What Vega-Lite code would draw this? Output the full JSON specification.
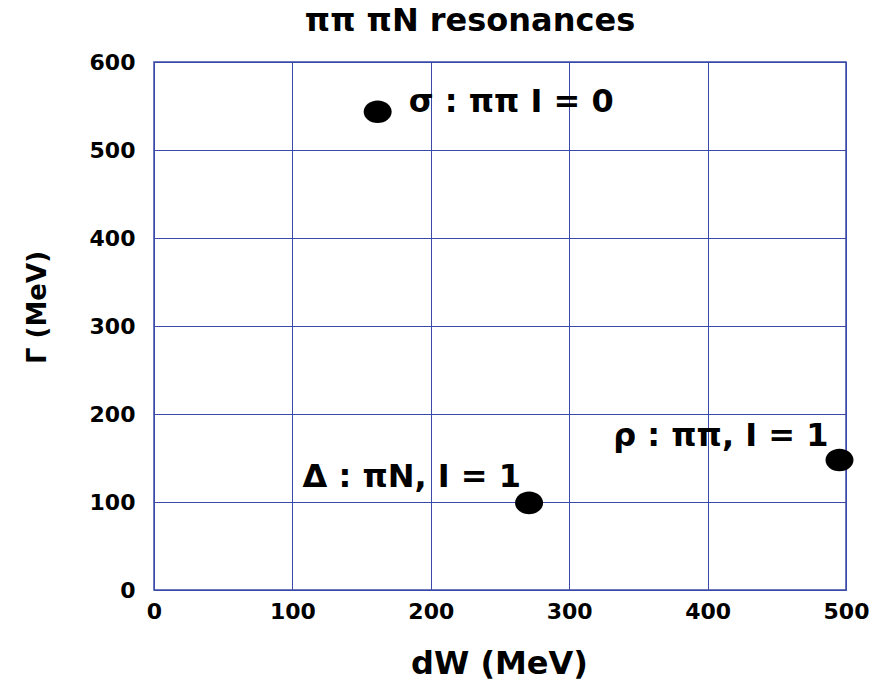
{
  "$schema": "https://vega.github.io/schema/vega-lite/v6.json",
  "width": 692,
  "height": 528,
  "autosize": {"type": "none"},
  "padding": {"left": 154, "top": 62, "right": 29, "bottom": 93},
  "background": "white",
  "title": {
    "text": "ππ πN resonances",
    "font": "DejaVu Sans",
    "fontSize": 32,
    "fontWeight": "bold",
    "color": "black",
    "anchor": "middle",
    "offset": 13,
    "dx": -30
  },
  "config": {
    "view": {"stroke": "#3b4aa8", "strokeWidth": 1.5},
    "axis": {
      "gridColor": "#3b4aa8",
      "gridOpacity": 1,
      "gridWidth": 1,
      "domain": false,
      "ticks": false,
      "labelFont": "DejaVu Sans",
      "labelFontSize": 22,
      "labelFontWeight": "bold",
      "labelColor": "black",
      "titleFont": "DejaVu Sans",
      "titleFontWeight": "bold",
      "titleColor": "black"
    }
  },
  "data": {
    "values": [
      {"dW": 161.6, "Gamma": 543.5, "label": "σ : ππ I = 0", "name": "sigma"},
      {"dW": 271, "Gamma": 99, "label": "Δ : πN, I = 1", "name": "delta"},
      {"dW": 495.3, "Gamma": 147.7, "label": "ρ : ππ, I = 1", "name": "rho"}
    ]
  },
  "encoding": {
    "x": {
      "field": "dW", "type": "quantitative",
      "scale": {"domain": [0, 500], "nice": false},
      "axis": {"values": [0, 100, 200, 300, 400, 500], "title": "dW (MeV)", "titleFontSize": 32, "labelPadding": 11, "titleX": 345, "titleY": 73, "titleBaseline": "middle", "labelFlush": false}
    },
    "y": {
      "field": "Gamma", "type": "quantitative",
      "scale": {"domain": [0, 600], "nice": false},
      "axis": {"values": [0, 100, 200, 300, 400, 500, 600], "title": "Γ (MeV)", "titleFontSize": 26, "labelPadding": 19, "titleX": -117, "titleY": 245, "titleAngle": -90, "titleBaseline": "middle", "labelFlush": false}
    }
  },
  "layer": [
    {
      "mark": {
        "type": "point",
        "filled": true,
        "color": "black",
        "opacity": 1,
        "size": 784,
        "shape": "M -1,0 A 1,0.81 0 1 1 1,0 A 1,0.81 0 1 1 -1,0 Z"
      }
    },
    {
      "transform": [{"filter": "datum.name == 'sigma'"}],
      "mark": {"type": "text", "align": "left", "baseline": "alphabetic", "dx": 31, "dy": 0, "font": "DejaVu Sans", "fontSize": 32, "fontWeight": "bold", "color": "black"},
      "encoding": {"text": {"field": "label"}}
    },
    {
      "transform": [{"filter": "datum.name == 'delta'"}],
      "mark": {"type": "text", "align": "right", "baseline": "alphabetic", "dx": -8, "dy": -16, "font": "DejaVu Sans", "fontSize": 32, "fontWeight": "bold", "color": "black"},
      "encoding": {"text": {"field": "label"}}
    },
    {
      "transform": [{"filter": "datum.name == 'rho'"}],
      "mark": {"type": "text", "align": "right", "baseline": "alphabetic", "dx": -11, "dy": -14, "font": "DejaVu Sans", "fontSize": 32, "fontWeight": "bold", "color": "black"},
      "encoding": {"text": {"field": "label"}}
    }
  ]
}
